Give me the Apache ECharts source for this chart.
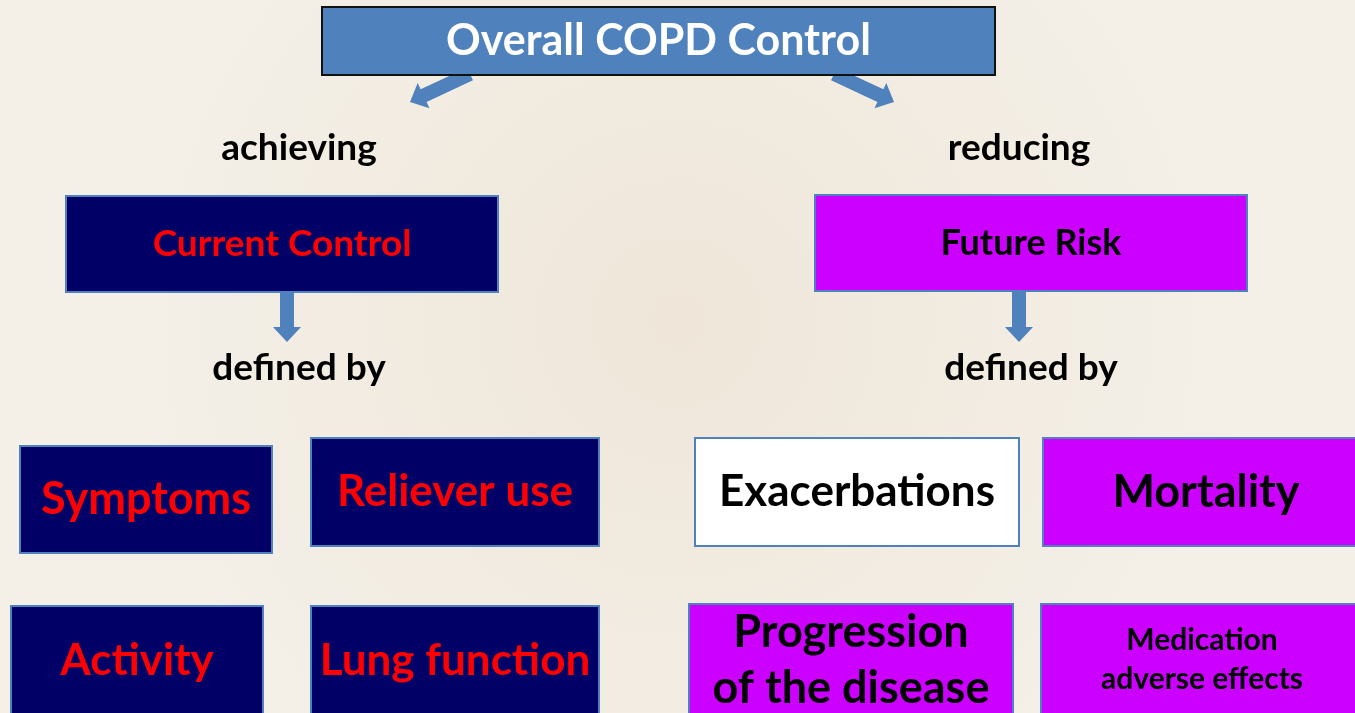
<!DOCTYPE html>
<html>
<head>
<meta charset="utf-8">
<script src="https://cdn.jsdelivr.net/npm/echarts@6/dist/echarts.min.js"></script>
<style>html,body{margin:0;padding:0;}#c{width:1355px;height:713px;}</style>
</head>
<body>
<div id="c"></div>
<script>
// ---- content (diagram nodes) ----
const boxLabels = ['Overall COPD Control','Current Control','Future Risk','Symptoms','Reliever use','Exacerbations','Mortality','Activity','Lung function','Progression\nof the disease','Medication\nadverse effects'];
const boxKinds  = ['root','control','risk','control','control','riskWhite','risk','control','control','risk','risk'];
const captionLabels = ['achieving','reducing','defined by','defined by'];

// ---- layout (diagram units = pixels of a 1355 x 713 canvas) ----
const boxRects = [
  [322,7,995,75],
  [66,196,498,292],
  [815,195,1247,291],
  [20,446,272,553],
  [311,438,599,546],
  [695,438,1019,546],
  [1043,438,1369,546],
  [11,606,263,716],
  [311,606,599,716],
  [689,604,1013,716],
  [1041,604,1363,716]
];
const boxFont = [43,37,36,45,44,44,45,44,44,45,30];
const boxLineH = [0,0,0,0,0,0,0,0,0,56,39];
const captionPos = [[299,148],[1019,148],[299,368],[1031,368]];
const arrows = [
  [470,74,410,102],
  [834,74,894,102],
  [287,292,287,342],
  [1019,291,1019,342]
];

const kindStyle = {
  root:      {fill:'#4f81bd', stroke:'#111111', text:'#ffffff'},
  control:   {fill:'#000066', stroke:'#4f81bd', text:'#ff0000'},
  risk:      {fill:'#cc00ff', stroke:'#4f81bd', text:'#000000'},
  riskWhite: {fill:'#ffffff', stroke:'#4f81bd', text:'#000000'}
};
const FONT = 'Lato, "Open Sans", sans-serif';

const chart = echarts.init(document.getElementById('c'));

const boxData = boxRects.map((r,i)=>[r[0],r[1],r[2],r[3],i]);
const capData = captionPos.map((p,i)=>[p[0],p[1],i]);

chart.setOption({
  backgroundColor: {
    type:'radial', x:0.5, y:0.45, r:0.8,
    colorStops:[{offset:0,color:'#efe6d9'},{offset:0.6,color:'#f2ece2'},{offset:1,color:'#f4f0e8'}]
  },
  animation:false,
  grid:{left:0,right:0,top:0,bottom:0},
  xAxis:{type:'value',min:0,max:1355,show:false},
  yAxis:{type:'value',min:0,max:713,inverse:true,show:false},
  series:[
    {
      type:'custom', clip:false,
      data: arrows,
      renderItem(params, api){
        const a = api.coord([api.value(0),api.value(1)]);
        const b = api.coord([api.value(2),api.value(3)]);
        const dx=b[0]-a[0], dy=b[1]-a[1];
        const L=Math.hypot(dx,dy), ux=dx/L, uy=dy/L, px=-uy, py=ux;
        const sw=7, hw=14, hl=15;
        const hb=[b[0]-ux*hl, b[1]-uy*hl];
        const pts=[
          [a[0]+px*sw,a[1]+py*sw],[hb[0]+px*sw,hb[1]+py*sw],[hb[0]+px*hw,hb[1]+py*hw],
          b,[hb[0]-px*hw,hb[1]-py*hw],[hb[0]-px*sw,hb[1]-py*sw],[a[0]-px*sw,a[1]-py*sw]
        ];
        return {type:'polygon', shape:{points:pts}, style:{fill:'#4f81bd'}};
      }
    },
    {
      type:'custom', clip:false,
      data: boxData,
      renderItem(params, api){
        const i = api.value(4);
        const p0 = api.coord([api.value(0),api.value(1)]);
        const p1 = api.coord([api.value(2),api.value(3)]);
        const st = kindStyle[boxKinds[i]];
        const ts = {text:boxLabels[i], fill:st.text, fontFamily:FONT, fontWeight:'bold', fontSize:boxFont[i], align:'center', verticalAlign:'middle'};
        if (boxLineH[i]) ts.lineHeight = boxLineH[i];
        return {
          type:'rect',
          shape:{x:p0[0],y:p0[1],width:p1[0]-p0[0],height:p1[1]-p0[1]},
          style:{fill:st.fill, stroke:st.stroke, lineWidth:2},
          textContent:{style:ts},
          textConfig:{position:'inside'}
        };
      }
    },
    {
      type:'custom', clip:false,
      data: capData,
      renderItem(params, api){
        const p = api.coord([api.value(0),api.value(1)]);
        return {type:'text', x:p[0], y:p[1], style:{text:captionLabels[api.value(2)], fill:'#000', fontFamily:FONT, fontWeight:'bold', fontSize:37, align:'center', verticalAlign:'middle'}};
      }
    }
  ]
});
</script>
</body>
</html>
